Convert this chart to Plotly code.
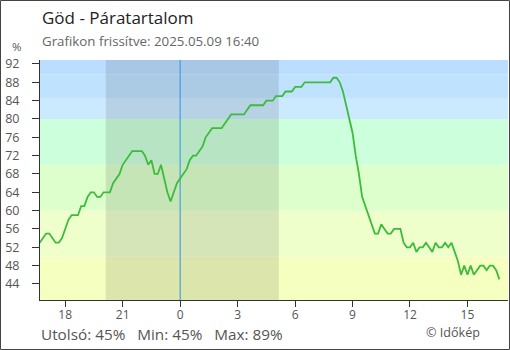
import pandas as pd
import plotly.graph_objects as go

# Relative humidity, 10-minute readings over the last 24 hours (%)
start_time = "2025-05-08 16:40"
humidity = [
    53, 54, 55, 55, 54, 53, 53, 54, 56, 58,
    59, 59, 59, 61, 61, 63, 64, 64, 63, 63,
    64, 64, 64, 66, 67, 68, 70, 71, 72, 73,
    73, 73, 73, 72, 70, 71, 68, 68, 70, 67,
    64, 62, 64, 66, 67, 68, 69, 71, 72, 72,
    73, 74, 76, 77, 78, 78, 78, 78, 79, 80,
    81, 81, 81, 81, 81, 82, 83, 83, 83, 83,
    83, 84, 84, 84, 85, 85, 85, 86, 86, 86,
    87, 87, 87, 88, 88, 88, 88, 88, 88, 88,
    88, 88, 89, 89, 88, 86, 83, 80, 77, 72,
    68, 63, 61, 59, 57, 55, 55, 57, 56, 55,
    55, 56, 56, 56, 53, 52, 52, 53, 51, 52,
    52, 53, 52, 51, 53, 52, 52, 53, 52, 53,
    51, 49, 46, 48, 46, 48, 46, 47, 48, 48,
    47, 48, 48, 47, 45,
]
times = pd.date_range(start_time, periods=len(humidity), freq="10min")

# Background bands (lower, upper, colour)
band_edges = [0, 50, 60, 70, 80, 84.6, 89.7, 100]
band_colors = ["#f5ffc0", "#eeffcc", "#ddffcc", "#ccffdb", "#cceaff", "#bfe3ff", "#bbddff"]

# Night between sunset and sunrise, and the midnight marker
night_start = "2025-05-08 20:07"
night_end = "2025-05-09 05:09"
midnight = "2025-05-09 00:00"

# Hour ticks
tick_times = pd.date_range("2025-05-08 18:00", "2025-05-09 15:00", freq="3h")
tick_text = [str(t.hour) for t in tick_times]
y_ticks = list(range(44, 93, 4))

W, H = 510, 350
ML, MR, MT, MB = 40, 2, 60, 50
PW, PH = W - ML - MR, H - MT - MB


def px_x(px):
    return (px - ML) / PW


def px_y(py):
    return (H - MB - py) / PH


font = "Open Sans, Noto Sans, sans-serif"
fig = go.Figure()

fig.add_trace(go.Scatter(
    x=times, y=humidity, mode="lines",
    line=dict(color="#3dbb3d", width=1.8),
    hoverinfo="x+y", showlegend=False,
))

shapes = []
for lo, hi, col in zip(band_edges[:-1], band_edges[1:], band_colors):
    shapes.append(dict(type="rect", xref="paper", yref="y", x0=0, x1=1, y0=lo, y1=hi,
                       fillcolor=col, line=dict(width=0), layer="below"))
shapes.append(dict(type="rect", xref="x", yref="paper", x0=night_start, x1=night_end,
                   y0=0, y1=1, fillcolor="rgba(0,0,0,0.1)", line=dict(width=0), layer="below"))
shapes.append(dict(type="line", xref="x", yref="paper", x0=midnight, x1=midnight,
                   y0=0, y1=1, line=dict(color="#2a95e6", width=1), layer="below"))
# outer frame
shapes.append(dict(type="rect", xref="paper", yref="paper",
                   x0=px_x(0.5), x1=px_x(W - 0.5), y0=px_y(H - 0.5), y1=px_y(0.5),
                   line=dict(color="#444444", width=1), fillcolor="rgba(0,0,0,0)"))

last_v, min_v, max_v = humidity[-1], min(humidity), max(humidity)
gap = "&nbsp;" * 3
summary = f"Utolsó: {last_v}%{gap}Min: {min_v}%{gap}Max: {max_v}%"
annotations = [
    dict(text="Göd - Páratartalom", x=px_x(40), y=px_y(18), xref="paper", yref="paper",
         xanchor="left", yanchor="middle", showarrow=False,
         font=dict(family=font, size=17, color="#222222")),
    dict(text="Grafikon frissítve: 2025.05.09 16:40", x=px_x(40), y=px_y(41),
         xref="paper", yref="paper", xanchor="left", yanchor="middle", showarrow=False,
         font=dict(family=font, size=13.3, color="#666666")),
    dict(text="%", x=px_x(17), y=px_y(47), xref="paper", yref="paper",
         xanchor="center", yanchor="middle", showarrow=False,
         font=dict(family=font, size=11.5, color="#555555")),
    dict(text=summary, x=px_x(39), y=px_y(334),
         xref="paper", yref="paper", xanchor="left", yanchor="middle", showarrow=False,
         font=dict(family=font, size=15.3, color="#555555")),
    dict(text="© Időkép", x=px_x(482), y=px_y(332), xref="paper", yref="paper",
         xanchor="right", yanchor="middle", showarrow=False,
         font=dict(family=font, size=12.6, color="#555555")),
]

fig.update_layout(
    width=W, height=H,
    margin=dict(l=ML, r=MR, t=MT, b=MB),
    paper_bgcolor="white", plot_bgcolor="white",
    shapes=shapes, annotations=annotations,
    font=dict(family=font, color="#555555"),
    xaxis=dict(
        type="date", range=["2025-05-08 16:41", "2025-05-09 17:07"],
        tickvals=tick_times, ticktext=tick_text,
        showgrid=False, zeroline=False, showline=True, linecolor="#333333", linewidth=1,
        ticks="outside", ticklen=6, tickcolor="#333333", ticklabelstandoff=-2,
        tickfont=dict(family=font, size=12, color="#555555"),
    ),
    yaxis=dict(
        range=[40.5, 92.87], tickvals=y_ticks,
        showgrid=False, zeroline=False, showline=True, linecolor="#333333", linewidth=1,
        ticks="outside", ticklen=7, tickcolor="#333333", ticklabelstandoff=10,
        tickfont=dict(family=font, size=12.5, color="#555555"),
    ),
)

fig.write_html("out.html")
